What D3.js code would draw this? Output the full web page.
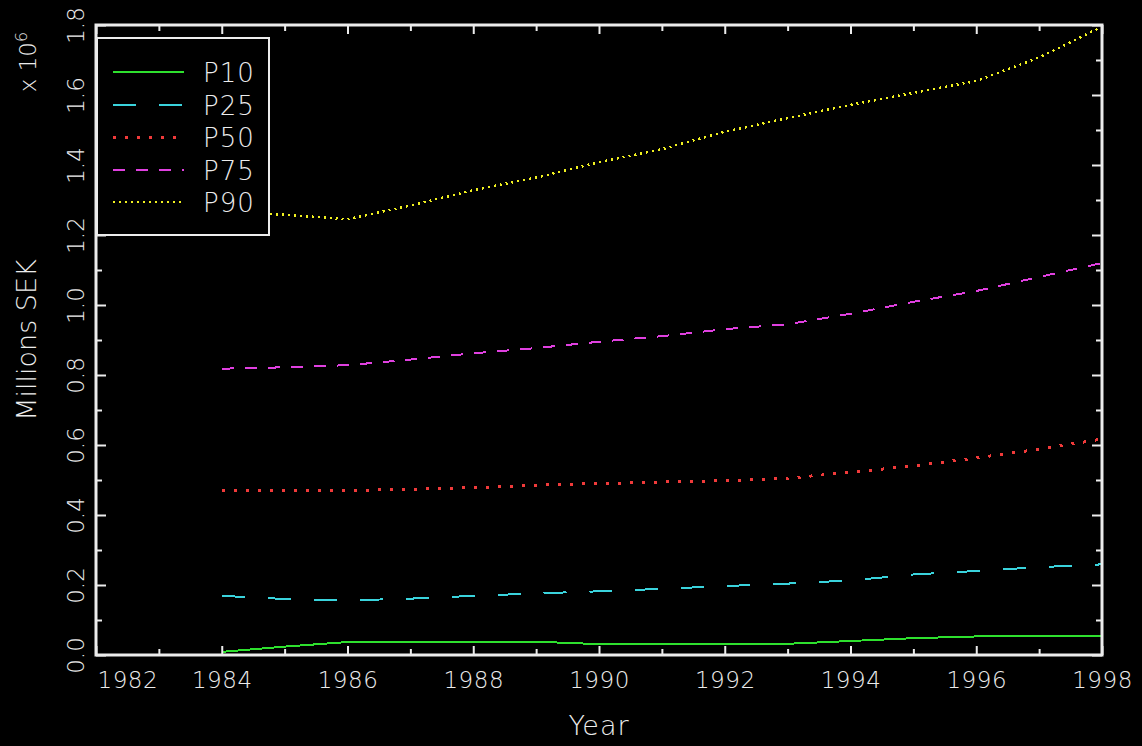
<!DOCTYPE html>
<html>
<head>
<meta charset="utf-8">
<script src="https://cdn.jsdelivr.net/npm/d3@7"></script>
<style>
  html, body { margin: 0; padding: 0; background: #000; }
  svg { display: block; }
  text { font-family: "DejaVu Sans", sans-serif; font-weight: 200; fill: #ececec; }
</style>
</head>
<body>
<script>
// Percentiles of net wealth, millions SEK (axis shows values × 10^6)
const years = [1984, 1985, 1986, 1987, 1988, 1989, 1990, 1991, 1992, 1993, 1994, 1995, 1996, 1997, 1998];
const p10 = [0.009, 0.024, 0.037, 0.038, 0.038, 0.038, 0.031, 0.031, 0.031, 0.032, 0.040, 0.048, 0.053, 0.053, 0.053];
const p25 = [0.169, 0.160, 0.156, 0.161, 0.169, 0.176, 0.182, 0.189, 0.197, 0.204, 0.213, 0.230, 0.240, 0.251, 0.259];
const p50 = [0.470, 0.470, 0.470, 0.473, 0.478, 0.485, 0.490, 0.494, 0.498, 0.505, 0.522, 0.540, 0.563, 0.588, 0.617];
const p75 = [0.818, 0.822, 0.828, 0.844, 0.862, 0.877, 0.895, 0.911, 0.931, 0.945, 0.975, 1.009, 1.040, 1.080, 1.120];
const p90 = [1.265, 1.258, 1.245, 1.284, 1.328, 1.364, 1.408, 1.445, 1.495, 1.534, 1.572, 1.606, 1.640, 1.707, 1.795];

const seriesNames = ["P10", "P25", "P50", "P75", "P90"];
const seriesValues = [p10, p25, p50, p75, p90];
const seriesColors = ["#2ee02e", "#3ad3dc", "#f03a3a", "#e040e0", "#f0f020"];
const seriesDash = [null, "23,23", "3,9", "12,11", "2,4"];
const seriesWidth = [2, 2, 3, 2, 2.5];

const xMajorTicks = [1982, 1984, 1986, 1988, 1990, 1992, 1994, 1996, 1998];
const xMinorTicks = [1983, 1985, 1987, 1989, 1991, 1993, 1995, 1997];
const yMajorTicks = [0, 0.2, 0.4, 0.6, 0.8, 1.0, 1.2, 1.4, 1.6, 1.8];
const yMinorTicks = [0.1, 0.3, 0.5, 0.7, 0.9, 1.1, 1.3, 1.5, 1.7];

const W = 1142, H = 746;
const margin = { left: 96, right: 40, top: 25, bottom: 91 };

const svg = d3.select("body").append("svg").attr("width", W).attr("height", H);
svg.append("rect").attr("width", W).attr("height", H).attr("fill", "#000");

const x = d3.scaleLinear().domain([1982, 1998]).range([margin.left, W - margin.right]);
const y = d3.scaleLinear().domain([0, 1.8]).range([H - margin.bottom, margin.top]);

const x0 = x.range()[0], x1 = x.range()[1];
const y0 = y.range()[0], y1 = y.range()[1];

// Series lines
const line = d3.line().x((d, i) => x(years[i])).y(d => y(d));
seriesValues.forEach((vals, k) => {
  svg.append("path")
    .datum(vals)
    .attr("d", line)
    .attr("fill", "none")
    .attr("stroke", seriesColors[k])
    .attr("stroke-width", seriesWidth[k])
    .attr("stroke-dasharray", seriesDash[k])
    .attr("shape-rendering", "crispEdges");
});

// Axis tick marks pointing into the plot on all four sides
function styleAxis(g) {
  g.select(".domain").remove();
  g.selectAll(".tick line").attr("stroke", "#ececec").attr("stroke-width", 2);
}
function noLabels(g) { g.selectAll(".tick text").remove(); }

svg.append("g").attr("transform", `translate(0,${y0})`)
  .call(d3.axisBottom(x).tickValues(xMinorTicks).tickSize(-6)).call(styleAxis).call(noLabels);
svg.append("g").attr("transform", `translate(0,${y1})`)
  .call(d3.axisTop(x).tickValues(xMinorTicks).tickSize(-6)).call(styleAxis).call(noLabels);
svg.append("g").attr("transform", `translate(0,${y1})`)
  .call(d3.axisTop(x).tickValues(xMajorTicks).tickSize(-9)).call(styleAxis).call(noLabels);
svg.append("g").attr("transform", `translate(${x0},0)`)
  .call(d3.axisLeft(y).tickValues(yMinorTicks).tickSize(-6)).call(styleAxis).call(noLabels);
svg.append("g").attr("transform", `translate(${x1},0)`)
  .call(d3.axisRight(y).tickValues(yMinorTicks).tickSize(-6)).call(styleAxis).call(noLabels);
svg.append("g").attr("transform", `translate(${x1},0)`)
  .call(d3.axisRight(y).tickValues(yMajorTicks).tickSize(-10)).call(styleAxis).call(noLabels);

// Bottom axis with year labels
const xAxis = svg.append("g").attr("transform", `translate(0,${y0})`)
  .call(d3.axisBottom(x).tickValues(xMajorTicks).tickSize(-9).tickPadding(0).tickFormat(d3.format("d")))
  .call(styleAxis);
xAxis.selectAll(".tick text")
  .attr("y", 33).attr("dy", null)
  .attr("font-size", 23)
  .attr("font-family", "DejaVu Sans, sans-serif")
  .attr("font-weight", 200)
  .attr("letter-spacing", 0.5)
  .attr("fill", "#ececec")
  .attr("text-anchor", d => d === 1982 ? "start" : "middle")
  .attr("x", d => d === 1982 ? 1 : 0);

// Left axis with rotated value labels
const yAxis = svg.append("g").attr("transform", `translate(${x0},0)`)
  .call(d3.axisLeft(y).tickValues(yMajorTicks).tickSize(-10).tickFormat(d3.format(".1f")))
  .call(styleAxis);
yAxis.selectAll(".tick text")
  .attr("x", null).attr("dy", null)
  .attr("transform", "translate(-12,0) rotate(-90)")
  .attr("text-anchor", "middle")
  .attr("font-size", 23)
  .attr("font-family", "DejaVu Sans, sans-serif")
  .attr("font-weight", 200)
  .attr("fill", "#ececec");

// Plot frame
svg.append("rect")
  .attr("x", x0).attr("y", y1)
  .attr("width", x1 - x0).attr("height", y0 - y1)
  .attr("fill", "none").attr("stroke", "#ececec").attr("stroke-width", 3);

// Axis titles
svg.append("text")
  .attr("x", (x0 + x1) / 2).attr("y", 735)
  .attr("text-anchor", "middle").attr("font-size", 27)
  .attr("letter-spacing", 1)
  .text("Year");

svg.append("text")
  .attr("transform", "translate(36,340) rotate(-90)")
  .attr("text-anchor", "middle").attr("font-size", 27)
  .text("Millions SEK");

const sci = svg.append("text")
  .attr("transform", "translate(36,62) rotate(-90)")
  .attr("text-anchor", "middle").attr("font-size", 23);
sci.append("tspan").text("x 10");
sci.append("tspan").attr("dy", -9).attr("font-size", 16).text("6");

// Legend
const lg = svg.append("g");
lg.append("rect")
  .attr("x", 97).attr("y", 38).attr("width", 172).attr("height", 197)
  .attr("fill", "#000").attr("stroke", "#ececec").attr("stroke-width", 2);
seriesNames.forEach((name, k) => {
  const cy = 72 + k * 32.5;
  lg.append("line")
    .attr("x1", 113).attr("x2", 184).attr("y1", cy).attr("y2", cy)
    .attr("stroke", seriesColors[k]).attr("stroke-width", seriesWidth[k])
    .attr("stroke-dasharray", seriesDash[k])
    .attr("shape-rendering", "crispEdges");
  lg.append("text")
    .attr("x", 203).attr("y", cy + 10)
    .attr("font-size", 26)
    .attr("letter-spacing", 1)
    .text(name);
});
</script>
</body>
</html>
